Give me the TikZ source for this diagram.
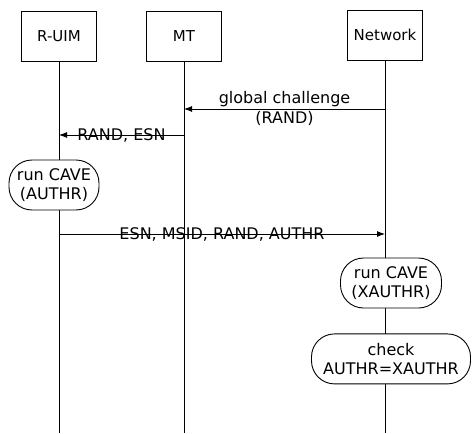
\documentclass[tikz,border=0pt]{standalone}
\usepackage{fontspec}
\setmainfont{DejaVu Sans}
\usetikzlibrary{arrows.meta,positioning}

\begin{document}
\begin{tikzpicture}[
    x=1pt, y=-1pt,
    entity/.style={rectangle, draw=black, line width=0.9pt, minimum width=75pt, minimum height=50pt, font=\fontsize{15}{18}\selectfont},
    proc/.style={rectangle, draw=black, line width=0.9pt, fill=white, rounded corners=23pt, minimum height=50pt, align=center, inner sep=2pt, font=\fontsize{16}{19}\selectfont},
    life/.style={line width=0.9pt},
    msg/.style={-{Latex[length=8pt,width=6pt]}, line width=0.9pt},
    lbl/.style={font=\fontsize{16}{19}\selectfont, inner sep=1.5pt}
]
\useasboundingbox (0,0) rectangle (473,433);

% Entities
\node[entity] (ruim) at (59,36) {R-UIM};
\node[entity] (mt) at (184,36) {MT};
\node[entity] (net) at (385,35) {Network};

% Lifelines
\coordinate (ruim-end) at (59,433);
\coordinate (mt-end) at (184,433);
\coordinate (net-end) at (385,433);
\draw[life] (ruim) -- (ruim-end);
\draw[life] (mt) -- (mt-end);
\draw[life] (net) -- (net-end);

% Message points
\coordinate (net-gc) at (385,109);
\coordinate (mt-gc) at (184,109);
\coordinate (mt-re) at (184,135);
\coordinate (ruim-re) at (59,135);
\coordinate (ruim-em) at (59,234);
\coordinate (net-em) at (385,234);

% Messages
\draw[msg] (net-gc) -- node[lbl, above] {global challenge} node[lbl, below] {(RAND)} (mt-gc);
\draw[msg] (mt-re) -- node[lbl] {RAND, ESN} (ruim-re);
\draw[msg] (ruim-em) -- node[lbl] {ESN, MSID, RAND, AUTHR} (net-em);

% Processing
\node[proc, minimum width=90pt] (caveA) at (54,185) {run CAVE\\(AUTHR)};
\node[proc, minimum width=101pt] (caveX) at (391,283) {run CAVE\\(XAUTHR)};
\node[proc, minimum width=159pt, below=25pt of caveX] (check) {check\\AUTHR=XAUTHR};

\end{tikzpicture}
\end{document}
